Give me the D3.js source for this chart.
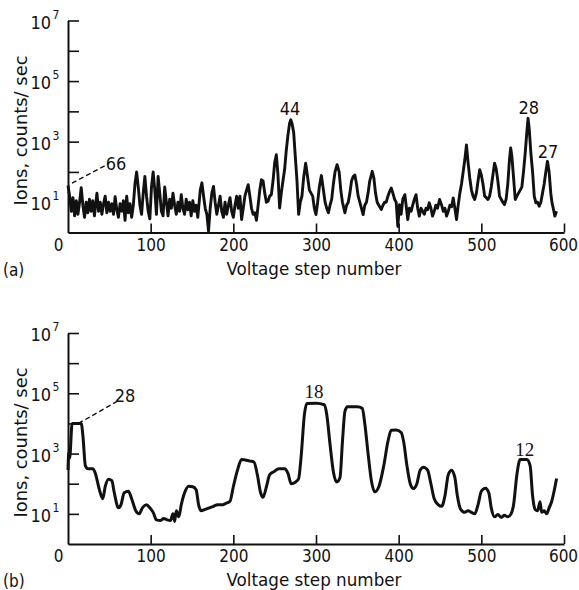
<!DOCTYPE html>
<html><head><meta charset="utf-8">
<script src="https://cdn.jsdelivr.net/npm/d3@7"></script>
<style>
html,body{margin:0;padding:0;background:#fff;}
svg{display:block;}
text{font-family:"Liberation Sans Narrow","DejaVu Sans Condensed","DejaVu Sans",sans-serif;font-stretch:condensed;fill:#111;}
</style></head>
<body><svg id="chart" width="579" height="590"></svg>
<script>
// ---------- DATA ----------
const xTickValues = [0,100,200,300,400,500,600];
const yTickExponents = [1,2,3,4,5,6,7];
const yLabelExponents = [1,3,5,7];
const xAxisTitle = "Voltage step number";
const yAxisTitle = "Ions, counts/ sec";

// Panel (a): voltage step and log10(counts/sec)
const stepsA = [0,2,4,6,8,10,12,14,16,18,20,22,24,26,28,30,32,35,37,39,41,43,45,47,49,51,53,55,57,59,61,63,65,67,69,71,73,75,77,79,81,83,85,87,89,91,93,95,97,99,101,103,105,107,109,111,113,115,117,119,121,123,125,127,129,131,133,135,137,139,141,143,145,147,149,151,153,155,157,160,162,164,166,168,170,172,174,176,178,180,182,184,186,188,190,192,194,196,198,200,202,204,206,208,210,212,214,216,218,220,222,224,226,228,230,232,234,236,238,240,242,244,246,248,250,252,254,256,258,260,262,264,266,268,269.5,271,273,275,277,279,281,283,285,287.5,290,292,294,296,298,300,302,304,306.5,309,311,313,315,317,319,321,323,325.5,328,330,332,335,337,339,341,343,345,347,349,351,353,355,357,359,361,363,365,368,370,372,374,376,379,381,383,385,387,389,391,393,395,397,399,401,403,405,407.5,409,411,413,415,417,419,421,423,425,427,429,431,433,435,437,439,441,443,445,447,449.5,452,454,456,458,460,462,464,466,468,470,472,474,476,478,480,482,484,486,488,490,492,494,496,498,500,502,504,506,508,510,512,514,516,518,520,522,524,526,528,530,532,534,535.5,537,539,541,543,545,547,549,551,553,555,556.5,558,560,562,564,566,568,570,572,574,576,578,580,582,584,585.5,587,589,591];
const logCountsA = [1.55,1.2,0.7,1.15,0.55,1.05,0.6,1.0,1.48,0.9,0.5,1.0,0.65,1.1,0.7,1.05,0.55,1.3,0.7,1.0,0.6,0.95,1.2,0.65,1.0,0.7,0.95,0.6,1.18,0.75,0.5,0.95,0.7,1.05,0.4,1.2,0.65,0.95,0.5,0.9,1.6,2.0,1.5,0.9,0.6,1.3,1.85,1.2,0.7,0.45,1.5,2.0,1.4,0.6,1.85,1.3,0.7,0.55,1.5,1.0,0.55,1.1,0.8,1.3,0.9,0.6,1.0,0.7,1.25,0.8,0.6,1.1,0.75,1.0,0.55,1.05,0.7,0.9,0.5,1.4,1.64,1.2,0.8,0.6,0.05,0.8,1.3,1.52,1.0,0.6,0.9,1.2,0.7,0.5,1.0,0.6,0.9,1.15,0.7,0.5,0.9,1.2,0.8,1.2,0.43,0.8,1.2,1.4,1.58,1.2,0.8,0.6,0.65,0.4,0.9,1.4,1.74,1.7,1.3,1.0,1.03,1.2,1.25,1.7,2.3,2.57,1.9,0.81,1.3,1.7,2.07,2.7,3.2,3.6,3.72,3.6,3.3,2.5,1.7,0.6,1.0,1.2,1.8,2.29,1.8,1.4,1.3,1.2,0.8,0.59,1.0,1.5,1.88,1.4,1.0,0.8,0.65,0.9,1.1,1.6,2.0,2.24,2.0,1.4,1.0,0.65,0.9,1.0,1.3,1.7,1.85,1.9,1.6,1.2,1.0,0.8,0.59,0.9,1.0,1.3,1.7,2.02,1.8,1.3,1.0,0.9,0.76,0.9,1.0,1.0,1.2,1.35,1.47,1.3,1.1,1.0,0.2,0.92,0.6,1.1,1.25,0.9,0.43,0.8,0.7,0.9,1.1,1.25,0.8,0.54,0.8,0.7,0.6,0.8,0.75,0.98,0.8,0.54,0.7,0.9,0.8,1.09,0.9,0.7,0.8,0.54,0.7,0.9,0.85,1.14,0.8,0.43,0.9,1.3,1.6,2.0,2.4,2.89,2.3,1.8,1.41,1.2,1.09,1.3,1.7,2.07,1.9,1.6,1.2,1.15,1.09,1.2,1.5,1.9,2.29,2.1,1.7,1.2,1.1,1.0,0.92,1.1,1.6,2.4,2.79,2.5,1.8,1.09,1.2,1.3,1.4,1.5,2.0,2.6,3.3,3.77,3.4,2.6,2.0,1.2,0.98,1.0,0.87,1.0,1.3,1.6,2.0,2.35,2.0,1.3,0.98,0.8,0.54,0.7];

// Panel (b)
const stepsB = [0,1,2,5,16,18,21,24,30,33,38,42,45,49,53,56,61,64,68,73,77,82,86,90,95,99,103,107,112,116,120,124,127,129,131,134,137,141,146,151,155,158,161,166,171,176,181,186,191,196,200,205,210,220,225,229,233,236,240,244,249,255,262,266,270,275,279,282,286,289,300,310,313,317,321,325,329,332,335,338,350,356,359,363,367,371,376,382,387,391,397,403,406,410,414,418,422,426,430,435,439,443,448,452,456,460,464,468,471,475,480,484,488,492,496,500,505,509,512,516,520,524,528,532,536,539,543,547,555,559,562,565,568,571,573,576,579,582,585,588,591];
const logCountsB = [2.45,3.05,2.85,4.0,4.0,3.6,2.6,2.5,2.5,2.35,1.8,1.5,1.9,2.15,2.1,1.7,1.2,1.3,1.7,1.75,1.5,1.1,1.0,1.2,1.3,1.2,1.05,0.8,0.78,0.85,0.8,0.78,1.0,0.75,1.1,0.9,1.3,1.7,1.92,1.9,1.8,1.3,1.1,1.15,1.2,1.25,1.3,1.3,1.35,1.42,1.9,2.45,2.8,2.75,2.72,2.3,1.7,1.55,1.9,2.3,2.4,2.5,2.5,2.35,2.0,2.05,2.17,2.9,4.3,4.66,4.67,4.62,4.3,3.3,2.4,2.06,2.2,3.4,4.4,4.55,4.55,4.5,4.0,3.0,2.1,1.73,1.9,2.6,3.4,3.77,3.78,3.7,3.4,2.6,2.0,1.84,2.0,2.45,2.55,2.45,2.0,1.5,1.3,1.25,1.6,2.3,2.45,2.2,1.6,1.15,1.05,1.1,1.05,1.0,1.3,1.75,1.85,1.7,1.2,0.9,0.98,0.88,0.95,0.9,1.0,1.3,2.3,2.8,2.8,2.6,1.6,1.15,1.1,1.4,1.05,1.1,1.0,1.2,1.4,1.75,2.17];

// Peak labels: [text, step, log10 position]
const labelsA = [["66",58,2.29],["44",268.5,4.11],["28",557.3,4.13],["27",580.6,2.67]];
const leaderA = [[4.8,1.63],[48.4,2.26]];
const labelsB = [["28",69,4.94],["18",297.6,5.06],["12",552.4,3.15]];
const leaderB = [[12.5,4.0],[58.9,4.72]];
const panelTags = ["(a)","(b)"];

// ---------- DRAW ----------
const svg = d3.select("#chart");
const x = d3.scaleLinear().domain([0,600]).range([68,564]);

function panel(top, bottom, steps, logs, labels, leader, tag, serifLabels, smooth){
  const y = d3.scaleLog().domain([1,1e7]).range([bottom, top]);
  const g = svg.append("g");

  // x axis
  const xa = d3.axisBottom(x).tickValues(xTickValues).tickSize(-9).tickSizeOuter(0).tickPadding(6).tickFormat(d3.format("d"));
  const gx = g.append("g").attr("transform",`translate(0,${bottom})`).call(xa);
  gx.attr("font-family",null).attr("font-size",null);
  gx.select(".domain").attr("stroke","#111").attr("stroke-width",2);
  gx.selectAll(".tick line").attr("stroke","#111").attr("stroke-width",1.6);
  gx.selectAll(".tick").filter(d=>d===0).select("line").remove();
  gx.selectAll(".tick text").attr("font-size",17).attr("fill","#111")
    .attr("dx", d=> d===0 ? -10 : (d===600 ? -1 : 0));

  // y axis
  const ya = d3.axisLeft(y).tickValues(yTickExponents.map(e=>Math.pow(10,e))).tickSize(-11).tickSizeOuter(0).tickFormat("");
  const gy = g.append("g").attr("transform",`translate(${x(0)},0)`).call(ya);
  gy.select(".domain").attr("stroke","#111").attr("stroke-width",2);
  gy.selectAll(".tick line").attr("stroke","#111").attr("stroke-width",1.6);

  yLabelExponents.forEach(e=>{
    const yy = y(Math.pow(10,e));
    g.append("text").attr("x",51).attr("y",yy+8).attr("text-anchor","end").attr("font-size",18).text("10");
    g.append("text").attr("x",52.5).attr("y",yy-2).attr("font-size",12).text(String(e));
  });

  // titles
  g.append("text").attr("x",226.5).attr("y",bottom+42).attr("font-size",18)
    .attr("textLength",175).attr("lengthAdjust","spacingAndGlyphs").text(xAxisTitle);
  g.append("text").attr("transform",`translate(27,${(top+bottom)/2+4}) rotate(-90)`)
    .attr("text-anchor","middle").attr("font-size",18)
    .attr("textLength",150).attr("lengthAdjust","spacingAndGlyphs").text(yAxisTitle);
  g.append("text").attr("x",3).attr("y",bottom+43).attr("font-size",17).text(tag);

  // trace
  const line = d3.line().x((d,i)=>x(steps[i])).y((d,i)=>y(Math.pow(10,logs[i])));
  if(smooth) line.curve(d3.curveMonotoneX);
  g.append("path").datum(logs).attr("d",line).attr("fill","none")
    .attr("stroke","#111").attr("stroke-width",smooth?3:2.9).attr("stroke-linejoin","round");

  // leader
  g.append("line").attr("x1",x(leader[0][0])).attr("y1",y(Math.pow(10,leader[0][1])))
    .attr("x2",x(leader[1][0])).attr("y2",y(Math.pow(10,leader[1][1])))
    .attr("stroke","#111").attr("stroke-width",1.4).attr("stroke-dasharray","5,3");

  labels.forEach(([t,s,l])=>{
    const serif = serifLabels.includes(t);
    const tx = g.append("text").attr("x",x(s)).attr("y",y(Math.pow(10,l))).attr("dy","0.36em")
      .attr("text-anchor","middle").attr("font-size",serif?19:18)
      .text(t);
    if(serif) tx.style("font-family",'"Liberation Serif","DejaVu Serif",serif').style("font-stretch","normal");
  });
}

panel(20.5, 232.5, stepsA, logCountsA, labelsA, leaderA, panelTags[0], [], false);
panel(333, 544, stepsB, logCountsB, labelsB, leaderB, panelTags[1], ["18","12"], true);
</script></body></html>
